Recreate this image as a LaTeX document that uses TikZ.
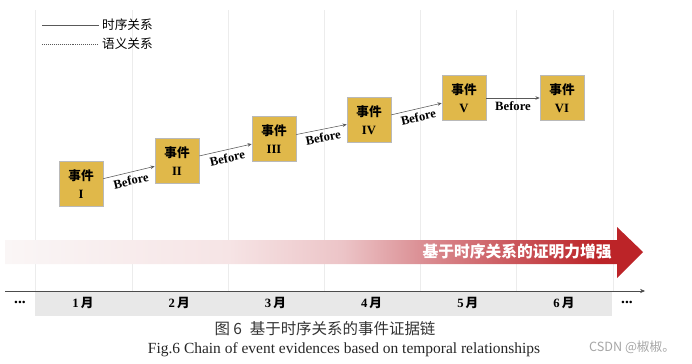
\documentclass[tikz,border=0pt]{standalone}
\usepackage{fontspec}
\setmainfont{Liberation Serif}
\newfontfamily\cjk{Noto Sans CJK SC}
\usetikzlibrary{arrows.meta,shadows}

\definecolor{evgold}{RGB}{224,184,74}
\definecolor{gridgray}{RGB}{236,236,236}
\definecolor{bandgray}{RGB}{232,232,232}
\definecolor{pr0}{RGB}{250,246,246}
\definecolor{pr1}{RGB}{246,228,229}
\definecolor{pr2}{RGB}{236,196,199}
\definecolor{pr3}{RGB}{218,140,145}
\definecolor{pr4}{RGB}{200,78,83}
\definecolor{pr5}{RGB}{188,36,40}
% the path box is mapped onto 25bp..75bp
\pgfdeclarehorizontalshading{proofshade}{100bp}{color(0bp)=(pr0); color(25bp)=(pr0); color(42.5bp)=(pr1); color(51.5bp)=(pr2); color(58bp)=(pr3); color(66bp)=(pr4); color(71.5bp)=(pr5); color(100bp)=(pr5)}

\begin{document}
\begin{tikzpicture}[
    x=0.025cm, y=-0.025cm,
    % event boxes
    event/.style={draw=gray!55, fill=evgold, minimum width=1.1cm, minimum height=1.12cm,
        inner sep=1pt, align=center, font=\fontsize{9}{12.5}\selectfont\bfseries,
        drop shadow={shadow xshift=0.6pt, shadow yshift=-0.6pt, opacity=0.35}},
    % temporal connector
    conn/.style={gray!70!black, thin, -{Stealth[length=3pt,width=2.5pt]}},
    before/.style={midway, sloped, below=1.5pt, inner sep=1pt, text=black, font=\fontsize{9}{10}\selectfont\bfseries},
    % time axis
    month/.style={font=\fontsize{9}{10}\selectfont\bfseries},
    legendtext/.style={right, inner sep=2pt, font=\fontsize{9}{10}\selectfont\cjk},
]
\useasboundingbox (0,0) rectangle (692,363);

% === GRID COLUMNS ===
\foreach \x in {35,132,228,324,420,516,613}
    \draw[gridgray, thin] (\x,10) -- (\x,291);

% === LEGEND ===
\coordinate (lgA) at (42,25);
\coordinate (lgB) at (42,44);
\node[legendtext] (lgT) at (99,25) {时序关系};
\node[legendtext] (lgS) at (99,44) {语义关系};
\draw[gray!70!black, thin] (lgA) -- (lgT.west);
\draw[gray!70!black, thin, densely dotted] (lgB) -- (lgS.west);

% === EVIDENCE STRENGTH ARROW ===
\shade[shading=proofshade] (5,240) -- (617,240) -- (617,227) -- (643,252)
    -- (617,278) -- (617,264) -- (5,264) -- cycle;
\node[white, font=\fontsize{11.2}{12}\selectfont\cjk\bfseries] (gain) at (517,252) {基于时序关系的证明力增强};

% === TIME AXIS ===
\fill[bandgray] (35,292) rectangle (612,316);
\coordinate (axA) at (5,291);
\coordinate (axB) at (645,291);
\draw[gray!60!black, -{Stealth[length=3.5pt,width=3pt]}] (axA) -- (axB);
\node[month, font=\fontsize{11}{12}\selectfont\bfseries] (dotsL) at (20,302) {...};
\node[month, font=\fontsize{11}{12}\selectfont\bfseries] (dotsR) at (627,302) {...};
\foreach \i in {1,...,6}
    \node[month] (m\i) at ({83+96.2*(\i-1)},303) {\i\,{\cjk 月}};

% === EVENTS ===
\node[event] (ev1) at (81,184) {{\cjk 事件}\\I};
\node[event] (ev2) at (177,161) {{\cjk 事件}\\II};
\node[event] (ev3) at (274,139) {{\cjk 事件}\\III};
\node[event] (ev4) at (369,120) {{\cjk 事件}\\IV};
\node[event] (ev5) at (464,98) {{\cjk 事件}\\V};
\node[event] (ev6) at (562,98) {{\cjk 事件}\\VI};

% temporal order
\foreach \a/\b in {1/2,2/3,3/4,4/5,5/6}
    \draw[conn] (ev\a) -- (ev\b) node[before] {Before};

% === CAPTION ===
\node[font=\fontsize{11}{12}\selectfont\cjk, text=black!80] (capZh) at (325,329) {图 6\enspace 基于时序关系的事件证据链};
\node[font=\fontsize{11}{12}\selectfont, text=black!85] (capEn) at (344,350) {Fig.6 Chain of event evidences based on temporal relationships};
\node[font=\fontsize{9}{10}\selectfont\cjk, text=gray!70] (mark) at (632,347) {CSDN @椒椒。};

\end{tikzpicture}
\end{document}
